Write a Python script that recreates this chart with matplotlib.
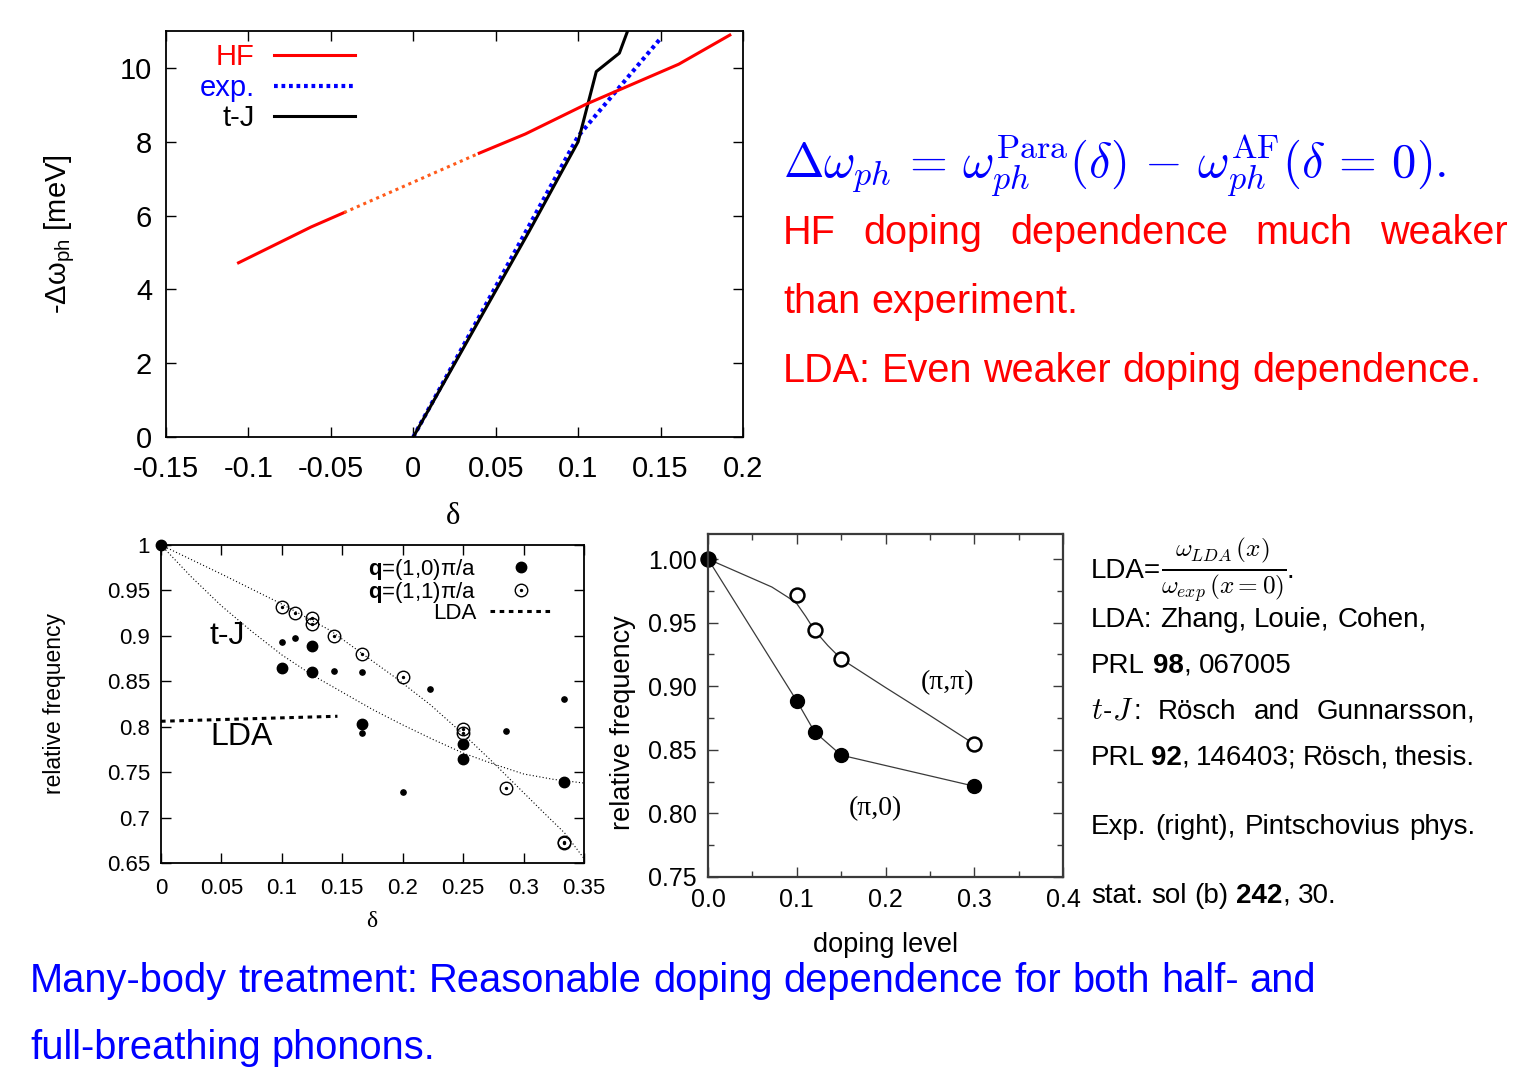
import matplotlib
matplotlib.use("Agg")
from matplotlib import pyplot as plt
from matplotlib.ticker import FormatStrFormatter, MultipleLocator
from matplotlib.legend_handler import HandlerTuple

plt.rcParams["font.family"] = ["Liberation Sans", "DejaVu Sans"]
plt.rcParams["mathtext.fontset"] = "custom"
plt.rcParams["mathtext.rm"] = "Liberation Sans"
plt.rcParams["mathtext.it"] = "Liberation Sans:italic"
plt.rcParams["mathtext.bf"] = "Liberation Sans:bold"
plt.rcParams["axes.unicode_minus"] = False

# - Top panel: -delta omega_ph [meV] vs delta
hf_lo_x = [-0.106, -0.062, -0.042]
hf_lo_y = [4.72, 5.69, 6.08]
hf_gap_x = [-0.042, 0.040]
hf_gap_y = [6.08, 7.69]
hf_hi_x = [0.040, 0.068, 0.105, 0.161, 0.192]
hf_hi_y = [7.69, 8.21, 9.02, 10.10, 10.89]
exp_x = [0.0, 0.100, 0.150]
exp_y = [0.0, 8.15, 10.80]
tj_x = [0.0, 0.070, 0.100, 0.111, 0.125, 0.130]
tj_y = [0.0, 5.55, 8.00, 9.90, 10.40, 11.00]
top_xticks = [-0.15, -0.1, -0.05, 0, 0.05, 0.1, 0.15, 0.2]
top_yticks = [0, 2, 4, 6, 8, 10]

# - Bottom left: t-J relative frequency vs delta
q10_x = [0.0, 0.1, 0.125, 0.125, 0.1667, 0.25, 0.25, 0.3333]
q10_y = [1.0, 0.865, 0.889, 0.860, 0.803, 0.781, 0.765, 0.739]
small_x = [0.1, 0.1111, 0.1429, 0.1667, 0.1667, 0.2, 0.2222, 0.2857, 0.3333]
small_y = [0.893, 0.898, 0.861, 0.860, 0.793, 0.728, 0.841, 0.795, 0.830]
q11_x = [0.1, 0.1111, 0.125, 0.125, 0.1429, 0.1667, 0.2, 0.25, 0.25,
         0.2857, 0.3333, 0.3333]
q11_y = [0.932, 0.9255, 0.920, 0.9126, 0.8998, 0.880, 0.855, 0.798, 0.793,
         0.733, 0.6735, 0.6715]
fit11_x = [0, 0.05, 0.1, 0.14, 0.168, 0.195, 0.223, 0.25, 0.273, 0.295,
           0.317, 0.334, 0.35]
fit11_y = [1.0, 0.968, 0.935, 0.906, 0.879, 0.853, 0.824, 0.792, 0.763,
           0.734, 0.705, 0.683, 0.655]
fit10_x = [0, 0.025, 0.05, 0.075, 0.1, 0.125, 0.15, 0.175, 0.2, 0.225,
           0.25, 0.275, 0.3, 0.325, 0.35]
fit10_y = [1.0, 0.965, 0.933, 0.905, 0.879, 0.857, 0.838, 0.819, 0.802,
           0.786, 0.771, 0.759, 0.748, 0.742, 0.738]
lda_x = [0.0, 0.146]
lda_y = [0.806, 0.8115]
bl_xticks = [0, 0.05, 0.1, 0.15, 0.2, 0.25, 0.3, 0.35]
bl_yticks = [0.65, 0.7, 0.75, 0.8, 0.85, 0.9, 0.95, 1.0]

# - Bottom middle: experiment (Pintschovius)
dop = [0.0, 0.10, 0.12, 0.15, 0.30]
rel_pipi = [1.0, 0.972, 0.944, 0.9215, 0.8545]
rel_pi0 = [1.0, 0.8885, 0.8642, 0.8458, 0.8214]
guide_x = [0.0, 0.072, 0.09, 0.1, 0.11, 0.12, 0.135, 0.15, 0.2, 0.25, 0.3]
guide_y = [1.0, 0.978, 0.970, 0.965, 0.955, 0.944, 0.932, 0.9215, 0.899,
           0.877, 0.8545]

W, H = 1526, 1087
fig = plt.figure(figsize=(W / 100, H / 100), dpi=100)
fig.patch.set_facecolor("white")


def px_box(left, top, right, bottom):
    return [left / W, 1 - bottom / H, (right - left) / W, (bottom - top) / H]


def inward(ax, size, color="black"):
    ax.tick_params(which="both", direction="in", top=True, right=True,
                   labelsize=size, width=1, color=color)
    ax.tick_params(which="major", length=7)
    ax.tick_params(which="minor", length=4)


# -- top panel
ax = fig.add_axes(px_box(166, 31, 743, 437))
h_exp, = ax.plot(exp_x, exp_y, color="blue", lw=3, ls=(0, (0.9, 0.9)))
h_tj, = ax.plot(tj_x, tj_y, color="black", lw=2.2)
h_hf, = ax.plot(hf_lo_x, hf_lo_y, color="red", lw=2.2)
ax.plot(hf_gap_x, hf_gap_y, color="#ff5a1a", lw=2.2, ls=(0, (1, 1.3)))
ax.plot(hf_hi_x, hf_hi_y, color="red", lw=2.2)
ax.set_xlim(-0.15, 0.2)
ax.set_ylim(0, 11)
ax.set_xticks(top_xticks)
ax.set_yticks(top_yticks)
ax.xaxis.set_major_formatter(FormatStrFormatter("%g"))
inward(ax, 21)
ax.tick_params(axis="x", pad=13)
ax.tick_params(axis="y", pad=10)
for s in ax.spines.values():
    s.set_linewidth(1.3)
ax.set_ylabel("-Δω$_{\\mathregular{ph}}$ [meV]", fontsize=21)
ax.yaxis.set_label_coords(-0.154, 0.5)
ax.set_xlabel("δ", fontsize=22, family="Liberation Serif")
ax.xaxis.set_label_coords(0.497, -0.16)
ax.legend([h_hf, h_exp, h_tj], ["HF", "exp.", "t-J"], markerfirst=False,
          frameon=False, fontsize=21, handlelength=2.8, handletextpad=0.65,
          labelspacing=0.09, borderpad=0, borderaxespad=0,
          loc="upper left", bbox_to_anchor=(0.058, 0.97),
          labelcolor=["red", "blue", "black"])

# -- bottom left panel (t-J)
ax2 = fig.add_axes(px_box(161, 545, 584, 863))
ax2.plot(fit11_x, fit11_y, color="black", lw=0.8, ls=(0, (1, 2)))
ax2.plot(fit10_x, fit10_y, color="black", lw=0.8, ls=(0, (1, 2)))
h_lda, = ax2.plot(lda_x, lda_y, color="black", lw=2.2, ls=(0, (1.5, 1.5)))
h_q10, = ax2.plot(q10_x, q10_y, "o", color="black", ms=7.5, clip_on=False)
ax2.plot(small_x, small_y, "o", color="black", ms=3.8)
h_q11, = ax2.plot(q11_x, q11_y, "o", mfc="none", mec="black", mew=1.0, ms=9)
h_q11c, = ax2.plot(q11_x, q11_y, "o", color="black", ms=1.4)
ax2.set_xlim(0, 0.35)
ax2.set_ylim(0.65, 1.0)
ax2.set_xticks(bl_xticks)
ax2.set_yticks(bl_yticks)
ax2.xaxis.set_major_formatter(FormatStrFormatter("%g"))
ax2.yaxis.set_major_formatter(FormatStrFormatter("%g"))
inward(ax2, 16)
ax2.tick_params(axis="x", pad=11)
ax2.tick_params(axis="y", pad=8)
for s in ax2.spines.values():
    s.set_linewidth(1.3)
ax2.set_ylabel("relative frequency", fontsize=16.5)
ax2.yaxis.set_label_coords(-0.225, 0.5)
ax2.set_xlabel("δ", fontsize=17, family="Liberation Serif")
ax2.xaxis.set_label_coords(0.499, -0.15)
ax2.text(0.0398, 0.9, "t-J", fontsize=23, va="center")
ax2.text(0.0406, 0.789, "LDA", fontsize=23, va="center")
ax2.legend([h_q10, (h_q11, h_q11c), h_lda],
           ["$\\mathbf{q}$=(1,0)π/a", "$\\mathbf{q}$=(1,1)π/a", "LDA"],
           handler_map={tuple: HandlerTuple(ndivide=1)},
           markerfirst=False, frameon=False, fontsize=16, handlelength=2.8,
           handletextpad=0.6, labelspacing=-0.1, borderpad=0,
           borderaxespad=0, loc="upper right", bbox_to_anchor=(0.924, 0.962))

# -- bottom middle panel (experiment)
ax3 = fig.add_axes(px_box(708, 534, 1063, 877))
grey = "#3a3a3a"
ax3.plot(guide_x, guide_y, color=grey, lw=0.9)
ax3.plot(dop, rel_pi0, color=grey, lw=0.9)
ax3.plot(dop, rel_pipi, "o", mfc="white", mec="black", mew=1.8, ms=10,
         lw=0, clip_on=False)
ax3.plot(dop, rel_pi0, "o", color="black", ms=10, lw=0, clip_on=False)
ax3.set_xlim(0, 0.4)
ax3.set_ylim(0.75, 1.0197)
ax3.xaxis.set_major_locator(MultipleLocator(0.1))
ax3.xaxis.set_minor_locator(MultipleLocator(0.05))
ax3.yaxis.set_major_locator(MultipleLocator(0.05))
ax3.yaxis.set_minor_locator(MultipleLocator(0.025))
ax3.xaxis.set_major_formatter(FormatStrFormatter("%.1f"))
ax3.yaxis.set_major_formatter(FormatStrFormatter("%.2f"))
inward(ax3, 18, grey)
ax3.tick_params(pad=8)
for s in ax3.spines.values():
    s.set_linewidth(1.6)
    s.set_color(grey)
ax3.set_ylabel("relative frequency", fontsize=19.5)
ax3.yaxis.set_label_coords(-0.203, 0.45)
ax3.set_xlabel("doping level", fontsize=19.5)
ax3.xaxis.set_label_coords(0.501, -0.16)
ax3.text(0.27, 0.9025, "(π,π)", fontsize=20, family="Liberation Serif",
         ha="center", va="center")
ax3.text(0.189, 0.804, "(π,0)", fontsize=20, family="Liberation Serif",
         ha="center", va="center")

# -- slide text
renderer = fig.canvas.get_renderer()
cm = {"math_fontfamily": "cm"}
bold = {"weight": "bold"}


def text_line(y, words, x0, x1=None, size=20, color="black"):
    placed = []
    for word in words:
        if isinstance(word, str):
            word = [(word, {})]
        runs = []
        for s, kw in word:
            opts = {"fontsize": size, "color": color}
            opts.update(kw)
            t = fig.text(0, 0, s, va="baseline", ha="left", **opts)
            runs.append((t, t.get_window_extent(renderer).width))
        placed.append(runs)
    total = sum(w for runs in placed for _, w in runs)
    if x1 is None or len(placed) < 2:
        gap = 0.278 * size * 100 / 72
    else:
        gap = (x1 - x0 - total) / (len(placed) - 1)
    x = x0
    for runs in placed:
        for t, w in runs:
            t.set_position((x / W, 1 - y / H))
            x += w
        x += gap


fig.text(783 / W, 1 - 178 / H,
         r"$\Delta\omega_{ph} \,=\, \omega_{ph}^{\rm Para}(\delta) \,-\, "
         r"\omega_{ph}^{\rm AF}(\delta \,=\, 0).$",
         fontsize=35, color="blue", va="baseline", math_fontfamily="cm")

text_line(244, ["HF", "doping", "dependence", "much", "weaker"], 783, 1508,
          size=28.5, color="red")
text_line(313, ["than", "experiment."], 783, size=28.5, color="red")
text_line(382, ["LDA:", "Even", "weaker", "doping", "dependence."], 783,
          size=28.5, color="red")

text_line(992, "Many-body treatment: Reasonable doping dependence for both "
          "half- and".split(), 30, size=28.7, color="blue")
text_line(1059, ["full-breathing", "phonons."], 30, size=28.7, color="blue")

frac = r"$\frac{\omega_{LDA}\,(x)}{\omega_{exp}\,(x=0)}$"
text_line(578, [[("LDA=", {}), (frac, dict(cm, fontsize=26)), (".", {})]],
          1091)
text_line(627, ["LDA:", "Zhang,", "Louie,", "Cohen,"], 1091)
text_line(673, ["PRL", [("98", bold), (",", {})], "067005"], 1091)
text_line(719, [[("$t$", dict(cm, fontsize=22)), ("-", {}),
                 ("$J$", dict(cm, fontsize=22)), (":", {})],
                "Rösch", "and", "Gunnarsson,"], 1091, 1475)
text_line(765, ["PRL", [("92", bold), (",", {})], "146403;", "Rösch,",
                "thesis."], 1091, 1475)
text_line(834, ["Exp.", "(right),", "Pintschovius", "phys."], 1091, 1475)
text_line(903, ["stat.", "sol", "(b)", [("242", bold), (",", {})], "30."],
          1091)

plt.savefig("out.png", dpi=100)
